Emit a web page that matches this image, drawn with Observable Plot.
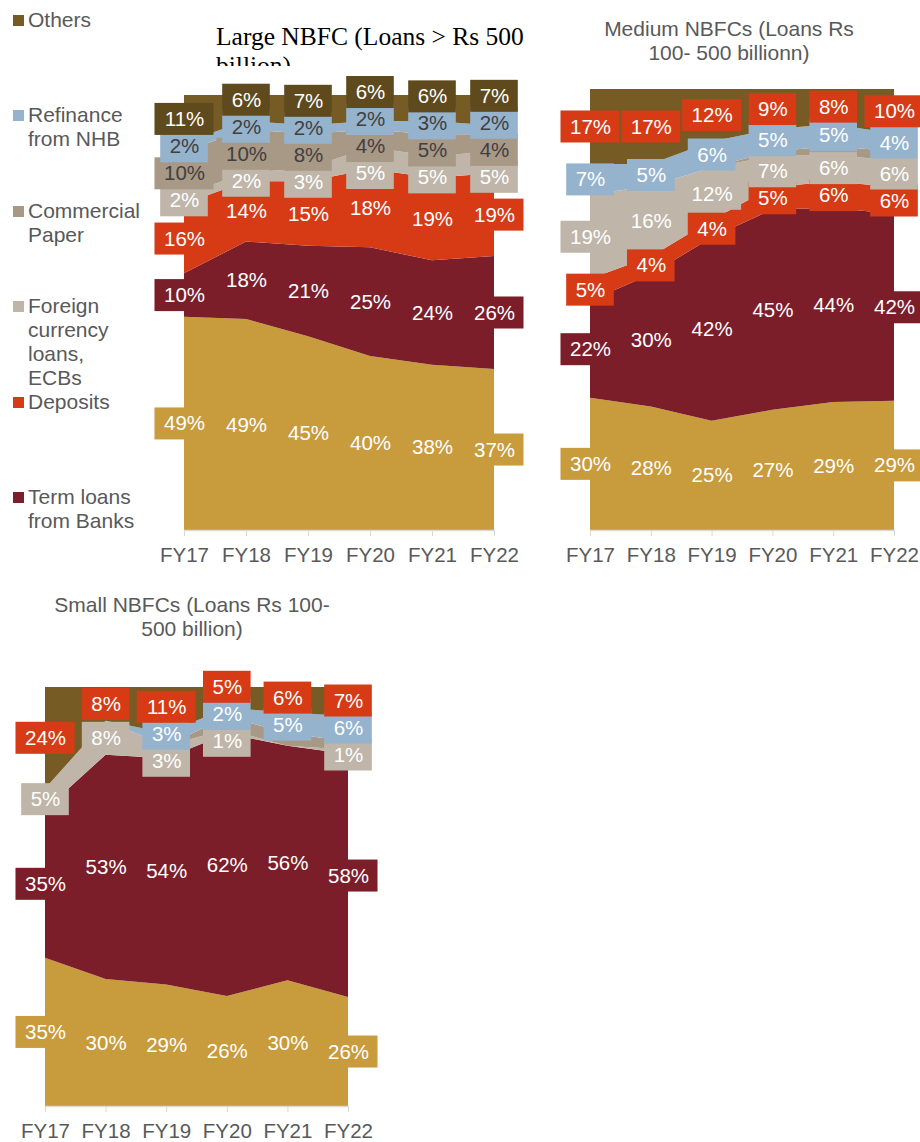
<!DOCTYPE html>
<html><head><meta charset="utf-8">
<script src="https://cdn.jsdelivr.net/npm/d3@7"></script>
<script src="https://cdn.jsdelivr.net/npm/@observablehq/plot@0.6"></script>
<style>
body{margin:0;background:#fff;font-family:"Liberation Sans",Arial,sans-serif;}
#root{position:relative;width:920px;height:1142px;overflow:hidden;background:#fff;}
.chart{position:absolute;}
.legend-item{position:absolute;left:28px;width:110px;font-size:21px;line-height:24px;color:#595959;}
.sw{position:absolute;left:-15px;top:7px;width:11px;height:11px;}
.ctitle{position:absolute;text-align:center;font-size:21px;line-height:24px;color:#595959;}
.chart svg g[aria-label^="x-axis"] line,.chart svg g[aria-label^="x-axis"] path{stroke:#D9D9D9;stroke-opacity:1;}
</style></head>
<body><div id="root"></div>
<script>
// ---------- data ----------
const years = ["FY17","FY18","FY19","FY20","FY21","FY22"];
const seriesNames = ["Debentures","Term loans from Banks","Deposits","Foreign currency loans, ECBs","Commercial Paper","Refinance from NHB","Others"];

// Large NBFC
const largeDebentures = [49,49,45,40,38,37];
const largeTermLoans  = [10,18,21,25,24,26];
const largeDeposits   = [16,14,15,18,19,19];
const largeForeign    = [2,2,3,5,5,5];
const largeCP         = [10,10,8,4,5,4];
const largeNHB        = [2,2,2,2,3,2];
const largeOthers     = [11,6,7,6,6,7];

// Medium NBFCs
const mediumDebentures = [30,28,25,27,29,29];
const mediumTermLoans  = [22,30,42,45,44,42];
const mediumDeposits   = [5,4,4,5,6,6];
const mediumForeign    = [19,16,12,7,6,6];
const mediumCP         = [0,0,0,1,2,2];
const mediumNHB        = [7,5,6,5,5,4];
const mediumOthers     = [17,17,12,9,8,10];

// Small NBFCs
const smallDebentures = [35,30,29,26,30,26];
const smallTermLoans  = [35,53,54,62,56,58];
const smallDeposits   = [0,0,0,0,0,0];
const smallForeign    = [5,8,3,1,0,1];
const smallCP         = [0,0,0,3,3,2];
const smallNHB        = [0,0,3,2,5,6];
const smallOthers     = [24,8,11,5,6,7];

// ---------- styles ----------
const areaColors = ["#C89B3C","#7B1E2A","#D63B16","#BFB5A8","#A89886","#95B3CD","#765B24"];
const FONT = "Liberation Sans, Arial, sans-serif";
const LABEL_FS = 20.5;

const charts = [
  {
    values: [largeDebentures,largeTermLoans,largeDeposits,largeForeign,largeCP,largeNHB,largeOthers],
    boxColors: ["#C89B3C","#7B1E2A","#D63B16","#BFB5A8","#A89886","#95B3CD","#5F4A1E"],
    textColors: ["#fff","#fff","#fff","#fff","#404040","#404040","#fff"],
    labelled: [1,1,1,1,1,1,1],
    lay: {left:130, top:70, width:420, height:500, mL:54, mR:56, mT:25, mB:40}
  },
  {
    values: [mediumDebentures,mediumTermLoans,mediumDeposits,mediumForeign,mediumCP,mediumNHB,mediumOthers],
    boxColors: ["#C89B3C","#7B1E2A","#D63B16","#BFB5A8","#A89886","#95B3CD","#D63B16"],
    textColors: ["#fff","#fff","#fff","#fff","#fff","#fff","#fff"],
    labelled: [1,1,1,1,0,1,1],
    lay: {left:545, top:66, width:375, height:504, mL:45, mR:26, mT:23, mB:40}
  },
  {
    values: [smallDebentures,smallTermLoans,smallDeposits,smallForeign,smallCP,smallNHB,smallOthers],
    boxColors: ["#C89B3C","#7B1E2A","#D63B16","#BFB5A8","#A89886","#95B3CD","#D63B16"],
    textColors: ["#fff","#fff","#fff","#fff","#fff","#fff","#fff"],
    labelled: [1,1,1,1,0,1,1],
    lay: {left:0, top:660, width:400, height:482, mL:45, mR:52, mT:27, mB:36}
  }
];

const root = document.getElementById("root");

// ---------- legend ----------
const legendOrder = [6,5,4,3,2,1];
legendOrder.forEach((j, k) => {
  const it = document.createElement("div");
  it.className = "legend-item";
  it.style.top = (8 + k*95.4) + "px";
  it.textContent = seriesNames[j];
  const sw = document.createElement("div");
  sw.className = "sw";
  sw.style.background = areaColors[j];
  it.appendChild(sw);
  root.appendChild(it);
});

// ---------- titles ----------
function addTitle(html, css) {
  const d = document.createElement("div");
  d.innerHTML = html;
  Object.assign(d.style, css);
  root.appendChild(d);
  return d;
}
addTitle("Large NBFC (Loans &gt; Rs 500 billion)", {position:"absolute", left:"216px", top:"22px", width:"330px", height:"44px", overflow:"hidden", fontFamily:"'Liberation Serif','Times New Roman',serif", fontSize:"25.5px", lineHeight:"29px", color:"#000"});
const mt = addTitle("Medium NBFCs (Loans Rs 100- 500 billionn)", {left:"589px", top:"17px", width:"280px"});
mt.className = "ctitle";
const st = addTitle("Small NBFCs (Loans Rs 100- 500 billion)", {left:"47px", top:"593px", width:"290px"});
st.className = "ctitle";

// ---------- label layout (centre of each band, then spread apart) ----------
function dodge(items, g) {
  const clusters = [];
  items.forEach(it => {
    clusters.push({items: [it], adj: it.c, n: 1});
    while (clusters.length > 1) {
      const b = clusters[clusters.length-1], a = clusters[clusters.length-2];
      const aStart = a.adj / a.n, bStart = b.adj / b.n;
      const aEnd = aStart + (a.n-1)*g;
      if (bStart - aEnd < g) {
        const merged = {items: a.items.concat(b.items), n: a.n + b.n, adj: a.adj + b.adj - b.n*a.n*g};
        clusters.splice(-2, 2, merged);
      } else break;
    }
  });
  clusters.forEach(cl => {
    const start = cl.adj / cl.n;
    cl.items.forEach((it, k) => it.ly = start + k*g);
  });
}

function buildLabels(ch) {
  const L = ch.lay;
  const plotH = L.height - L.mT - L.mB;
  const plotW = L.width - L.mL - L.mR;
  const pxPerX = plotW / (years.length - 1);
  const out = [];
  years.forEach((y, i) => {
    const vals = ch.values.map(a => a[i]);
    const total = d3.sum(vals);
    let acc = 0;
    const items = [];
    vals.forEach((v, j) => {
      const mid = (acc + v/2) / total;
      acc += v;
      if (v > 0 && ch.labelled[j]) {
        const t = v + "%";
        const wpx = ((t.length - 1) * 0.556 + 0.889) * LABEL_FS + 18;
        items.push({i, j, t, c: mid, hw: (wpx/2)/pxPerX, hh: 16/plotH,
          bc: ch.boxColors[j], tc: ch.textColors[j]});
      }
    });
    dodge(items, 27/plotH);
    out.push(...items);
  });
  return out;
}

// ---------- charts ----------
charts.forEach(ch => {
  const L = ch.lay;
  const rows = [];
  ch.values.forEach((arr, j) => arr.forEach((v, i) => rows.push({i, v, s: seriesNames[j], j})));
  const labs = buildLabels(ch);
  const marks = [
    Plot.areaY(rows, {x: "i", y: "v", z: "s", fill: d => areaColors[d.j], order: seriesNames, offset: "normalize"}),
    Plot.ruleY([0], {stroke: "#D9D9D9", strokeWidth: 1.5})
  ];
  seriesNames.forEach((s, j) => {
    const sub = labs.filter(d => d.j === j);
    if (!sub.length) return;
    marks.push(Plot.rect(sub, {x1: d => d.i - d.hw, x2: d => d.i + d.hw, y1: d => d.ly - d.hh, y2: d => d.ly + d.hh, fill: "bc"}));
    marks.push(Plot.text(sub, {x: "i", y: "ly", text: "t", fill: "tc", fontSize: LABEL_FS, fontFamily: FONT}));
  });
  const svg = Plot.plot({
    width: L.width, height: L.height,
    marginLeft: L.mL, marginRight: L.mR, marginTop: L.mT, marginBottom: L.mB,
    style: {background: "transparent", overflow: "visible", color: "#595959", fontFamily: FONT, fontSize: "20.5px"},
    x: {domain: [0, years.length - 1], ticks: years.map((_, i) => i), tickFormat: i => years[i], tickSize: 6, tickPadding: 11, label: null},
    y: {domain: [0, 1], axis: null},
    color: {type: "identity"},
    marks
  });
  const div = document.createElement("div");
  div.className = "chart";
  div.style.left = L.left + "px";
  div.style.top = L.top + "px";
  div.style.width = L.width + "px";
  div.appendChild(svg);
  root.appendChild(div);
});
</script>
</body></html>
